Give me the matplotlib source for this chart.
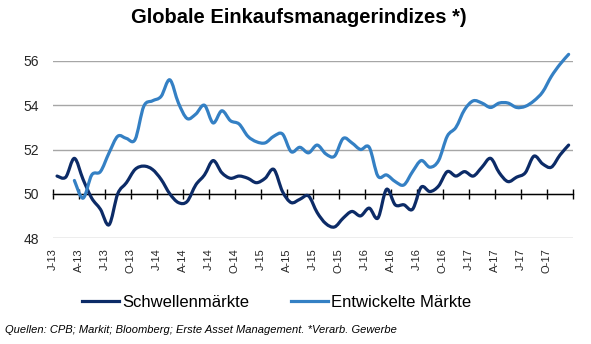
import numpy as np
import matplotlib
matplotlib.use('Agg')
import matplotlib.pyplot as plt
from matplotlib.path import Path
from matplotlib.patches import PathPatch
from matplotlib.lines import Line2D

# ── Data (monthly, Jan 2013 – Dec 2017) ───────────────────────────────────────
schwellen = [
    50.8, 50.75, 51.6, 50.65, 49.8, 49.3, 48.6, 50.0, 50.5, 51.1,
    51.25, 51.1, 50.65, 50.0, 49.6, 49.65, 50.4, 50.85, 51.5, 50.95,
    50.7, 50.8, 50.7, 50.5, 50.7, 51.1, 50.1, 49.6, 49.75, 49.9,
    49.15, 48.65, 48.5, 48.9, 49.2, 49.0, 49.35, 48.9, 50.2, 49.5,
    49.5, 49.3, 50.3, 50.1, 50.35, 51.0, 50.8, 51.0, 50.8, 51.2,
    51.6, 50.95, 50.55, 50.75, 50.95, 51.7, 51.35, 51.2, 51.75, 52.2,
]
entwickelt = [
    np.nan, np.nan, 50.6, 49.8, 50.85, 51.0, 51.85, 52.6, 52.5, 52.45,
    53.95, 54.2, 54.4, 55.15, 54.1, 53.4, 53.6, 54.0, 53.2, 53.75,
    53.3, 53.15, 52.6, 52.35, 52.3, 52.6, 52.7, 51.9, 52.1, 51.85,
    52.2, 51.8, 51.7, 52.5, 52.3, 52.0, 52.1, 50.8, 50.85, 50.55,
    50.4, 51.0, 51.5, 51.2, 51.5, 52.6, 53.0, 53.8, 54.2, 54.1,
    53.9, 54.1, 54.1, 53.9, 53.95, 54.2, 54.6, 55.3, 55.85, 56.3,
]
quarter_labels = [
    'J-13', 'A-13', 'J-13', 'O-13', 'J-14', 'A-14', 'J-14', 'O-14',
    'J-15', 'A-15', 'J-15', 'O-15', 'J-16', 'A-16', 'J-16', 'O-16',
    'J-17', 'A-17', 'J-17', 'O-17',
]
series_names = ['Schwellenmärkte', 'Entwickelte Märkte']

# ── Style ─────────────────────────────────────────────────────────────────────
DARK_NAVY  = '#0C2B67'
LIGHT_BLUE = '#3480C4'
GRID_COLOR = '#A6A6A6'
FONT = ['Liberation Sans', 'DejaVu Sans']

plt.rcParams['font.family'] = FONT


def smooth_path(x, y):
    """Excel-style smoothed line as a cubic Bezier path (Catmull-Rom)."""
    x = np.asarray(x, float)
    y = np.asarray(y, float)
    ok = ~np.isnan(y)
    pts = np.column_stack([x[ok], y[ok]])
    n = len(pts)
    verts = [pts[0]]
    codes = [Path.MOVETO]
    for i in range(n - 1):
        p0 = pts[max(i - 1, 0)]
        p1 = pts[i]
        p2 = pts[i + 1]
        p3 = pts[min(i + 2, n - 1)]
        c1 = p1 + (p2 - p0) / 6.0
        c2 = p2 - (p3 - p1) / 6.0
        verts += [c1, c2, p2]
        codes += [Path.CURVE4] * 3
    return Path(verts, codes)


fig = plt.figure(figsize=(5.91, 3.44), dpi=100)
ax = fig.add_axes([0.0892, 0.3081, 0.8803, 0.5146])

months = np.arange(len(schwellen))
for vals, col in ((schwellen, DARK_NAVY), (entwickelt, LIGHT_BLUE)):
    patch = PathPatch(smooth_path(months, vals), facecolor='none', edgecolor=col,
                      lw=2.3, capstyle='round', joinstyle='round', clip_on=False,
                      zorder=3)
    ax.add_patch(patch)

ax.set_xlim(-0.5, len(schwellen) - 0.5)
ax.set_ylim(48, 56)
ax.set_yticks([48, 50, 52, 54, 56])
ax.grid(axis='y', color=GRID_COLOR, linewidth=1.0)
ax.set_axisbelow(True)

# x axis crosses at 50, labels at the bottom
ax.spines['bottom'].set_position(('data', 50))
ax.spines['bottom'].set_color('black')
ax.spines['bottom'].set_linewidth(1.0)
ax.spines['bottom'].set_zorder(2)
for s in ('top', 'right', 'left'):
    ax.spines[s].set_visible(False)

xt = np.arange(-0.5, len(schwellen), 3)
ax.set_xticks(xt)
ax.set_xticklabels(quarter_labels + [''] * (len(xt) - len(quarter_labels)),
                   rotation=90, fontsize=8, color='#262626')
ax.tick_params(axis='x', direction='inout', length=7, width=1.0, pad=36)
ax.tick_params(axis='y', length=0, pad=10, labelsize=10, labelcolor='#262626')

fig.text(0.505, 0.948, 'Globale Einkaufsmanagerindizes *)', ha='center',
         va='center', fontsize=14.5, fontweight='bold', color='black')

handles = [Line2D([], [], color=DARK_NAVY, lw=2.3),
           Line2D([], [], color=LIGHT_BLUE, lw=2.3)]
fig.legend(handles, series_names, loc='center', bbox_to_anchor=(0.468, 0.122),
           ncol=2, frameon=False, fontsize=12, handlelength=2.2,
           handletextpad=0.2, columnspacing=2.5)

fig.text(0.008, 0.04, 'Quellen: CPB; Markit; Bloomberg; Erste Asset Management. '
         '*Verarb. Gewerbe', ha='left', va='center', fontsize=8,
         style='italic', color='black')

fig.savefig('out.png', dpi=100, facecolor='white')
